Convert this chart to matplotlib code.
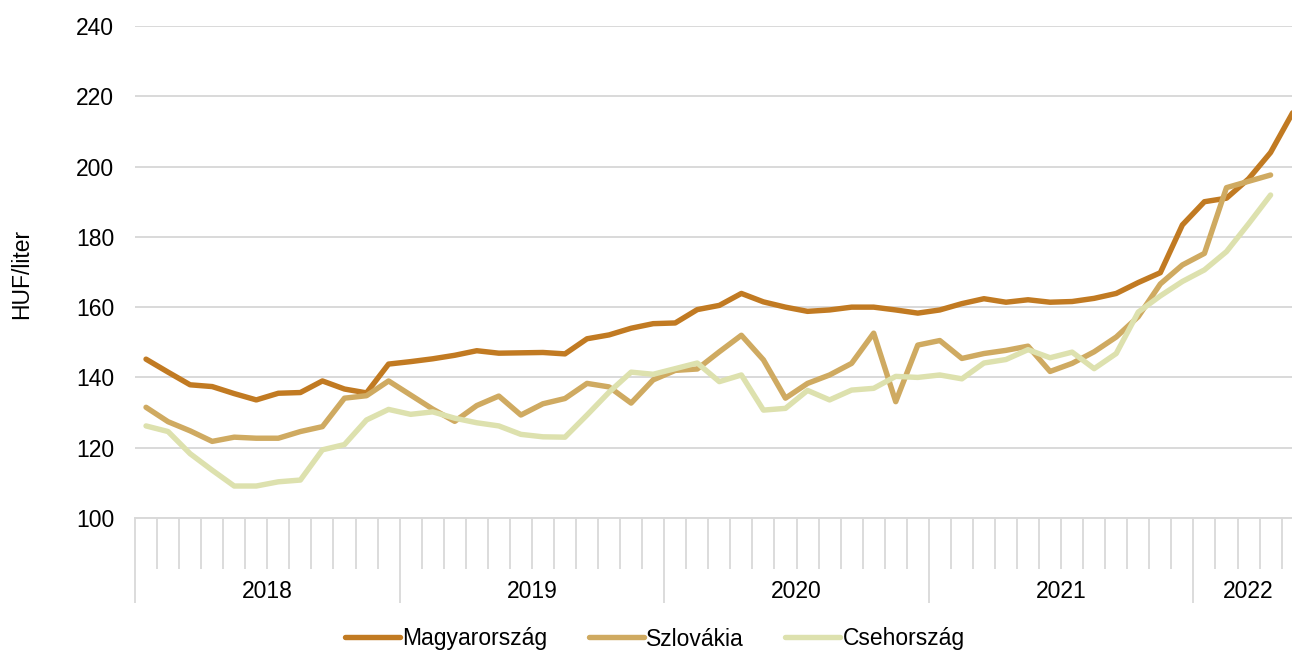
import matplotlib
matplotlib.use("Agg")
import matplotlib.pyplot as plt
import matplotlib.transforms as mtransforms
import numpy as np

# Monthly data Jan 2018 - May 2022
years = ["2018", "2019", "2020", "2021", "2022"]
months_per_year = [12, 12, 12, 12, 5]

magyar = [145.2, 141.5, 137.9, 137.4, 135.4, 133.6, 135.5, 135.7, 139.0, 136.7, 135.6, 143.8,
          144.5, 145.3, 146.3, 147.6, 146.9, 147.0, 147.1, 146.7, 151.0, 152.1, 154.0, 155.3,
          155.5, 159.3, 160.5, 163.9, 161.5, 160.0, 158.8, 159.2, 160.0, 160.0, 159.2, 158.3,
          159.2, 161.0, 162.4, 161.4, 162.1, 161.4, 161.6, 162.5, 163.9, 167.0, 169.8, 183.4,
          190.0, 191.0, 196.5, 204.0, 215.3]
szlovakia = [131.5, 127.4, 124.8, 121.8, 123.0, 122.7, 122.7, 124.6, 126.0, 134.1, 134.8, 139.0,
             135.0, 131.0, 127.5, 132.0, 134.7, 129.3, 132.5, 134.0, 138.3, 137.3, 132.7, 139.3,
             142.0, 142.4, 147.3, 152.0, 145.0, 134.1, 138.3, 140.7, 144.0, 152.6, 133.1, 149.2,
             150.5, 145.4, 146.8, 147.7, 148.9, 141.7, 144.0, 147.3, 151.5, 157.3, 166.6, 172.0,
             175.3, 194.0, 195.8, 197.6]
csehorszag = [126.2, 124.6, 118.3, 113.6, 109.1, 109.1, 110.3, 110.8, 119.4, 120.9, 127.9, 130.9,
              129.5, 130.2, 128.4, 127.1, 126.2, 123.8, 123.1, 123.0, 129.3, 135.8, 141.5, 140.9,
              142.5, 144.1, 138.8, 140.7, 130.7, 131.2, 136.3, 133.6, 136.4, 136.9, 140.3, 140.0,
              140.7, 139.6, 144.1, 145.1, 147.9, 145.6, 147.2, 142.5, 146.8, 158.6, 163.2, 167.3,
              170.6, 175.8, 183.7, 191.9]

series = [("Magyarország", magyar, "#C17A22"),
          ("Szlovákia", szlovakia, "#CFAA61"),
          ("Csehország", csehorszag, "#DDE1AE")]

plt.rcParams["font.family"] = ["Liberation Sans", "DejaVu Sans"]
FS = 16.5

W, H = 1292, 651
fig = plt.figure(figsize=(W / 100, H / 100), dpi=100)
n_total = sum(months_per_year)
left_px, right_px = 135, 135 + n_total * 22.05
top_px, bot_px = 26, 518
ax = fig.add_axes([left_px / W, 1 - bot_px / H, (right_px - left_px) / W, (bot_px - top_px) / H])

grid_color = "#D9D9D9"
for name, vals, col in series:
    x = np.arange(len(vals))
    ax.plot(x, vals, color=col, lw=3.9, label=name, solid_capstyle="round",
            solid_joinstyle="round", zorder=3)

ax.set_xlim(-0.5, n_total - 0.5)
ax.set_ylim(100, 240)
ax.set_yticks(np.arange(100, 241, 20))
ax.yaxis.grid(True, color=grid_color, lw=1.4, zorder=0)
ax.tick_params(axis="y", length=0, pad=15, labelsize=FS, labelcolor="#000000")

for s in ["left", "right", "top"]:
    ax.spines[s].set_visible(False)
ax.spines["bottom"].set_color(grid_color)
ax.spines["bottom"].set_linewidth(1.4)

# month ticks (minor) and year boundary ticks (major)
bounds = np.cumsum([0] + months_per_year) - 0.5
month_edges = np.arange(-0.5, n_total, 1.0)
ax.set_xticks(bounds[:-1])
ax.set_xticklabels([])
ax.set_xticks([m for m in month_edges if m not in set(bounds)], minor=True)
ax.tick_params(axis="x", which="major", length=61, width=1.3, color=grid_color)
ax.tick_params(axis="x", which="minor", length=37, width=1.3, color=grid_color)

trans = mtransforms.blended_transform_factory(ax.transData, ax.transAxes)
for i, yr in enumerate(years):
    cx = (bounds[i] + bounds[i + 1]) / 2
    ax.text(cx, -0.150, yr, transform=trans, ha="center", va="center", fontsize=FS)

ax.set_ylabel("HUF/liter", fontsize=FS)
ax.yaxis.set_label_coords(-(135 - 33) / (right_px - left_px), (518 - 274) / 492)

fig.legend(loc="center", bbox_to_anchor=(655 / W, 1 - 639 / H), ncol=3, frameon=False,
           fontsize=FS, handlelength=2.4, handletextpad=0.1, columnspacing=1.8)

fig.savefig("out.png", dpi=100)
